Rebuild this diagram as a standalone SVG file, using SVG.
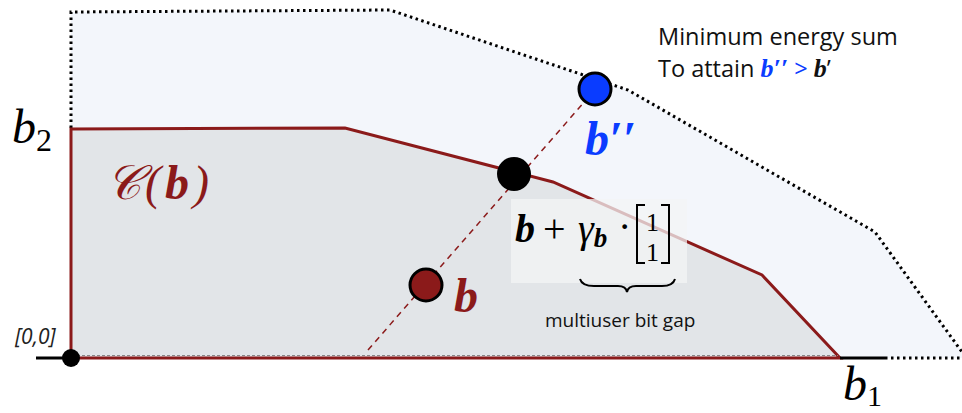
<svg xmlns="http://www.w3.org/2000/svg" width="962" height="413" viewBox="0 0 962 413">
<style>
.dot{fill:none;stroke:#000;stroke-width:3;stroke-dasharray:2.5 3.5}
.red{stroke:#8b1a1a;stroke-width:3;fill:none}
.mi{font-family:"Liberation Serif",serif;font-style:italic}
.mb{font-family:"Liberation Serif",serif;font-style:italic;font-weight:bold}
.mr{font-family:"Liberation Serif",serif}
.sans{font-family:"Open Sans","Noto Sans",sans-serif}
</style>
<g id="region-outer">
<path d="M71,12 L390,10 L628,90 L875,232 L962,352 L962,358 L71,358 Z" fill="#f3f6fb"/>
<path class="dot" d="M71,128 L71,12 L390,10 L628,90 L875,232 L962,352"/>
<path class="dot" d="M885,358 L962,358"/>
</g>
<g id="region-C">
<path d="M71,129 L345,128 L553,182 L762,275 L840,358 L71,358 Z" fill="#e2e5e8"/>
<path class="red" d="M71,358 L71,129 L345,128 L553,182 L762,275 L840,358 L71,358"/>
<line x1="72" y1="355.5" x2="838" y2="355.5" stroke="#888" stroke-width="1" stroke-dasharray="3 2"/>
<text class="mi" x="106" y="199" font-size="48" letter-spacing="4" fill="#8b1a1a">𝒞(<tspan class="mb">b</tspan>)</text>
</g>
<g id="axes">
<line x1="36" y1="358" x2="71" y2="358" stroke="#000" stroke-width="3"/>
<line x1="840" y1="358" x2="885" y2="358" stroke="#000" stroke-width="3"/>
<circle cx="71" cy="358" r="9" fill="#000"/>
<text class="mi" x="12" y="143" font-size="48">b<tspan font-style="normal" font-size="32" dy="8">2</tspan></text>
<text class="mi" x="843" y="400" font-size="48">b<tspan font-style="normal" font-size="30" dy="6">1</tspan></text>
<text class="sans" x="15" y="344" font-size="21" font-style="italic" fill="#222">[0,0]</text>
</g>
<g id="connectors">
<line x1="368" y1="350" x2="586" y2="100" stroke="#8b1a1a" stroke-width="1.5" stroke-dasharray="6 5"/>
</g>
<g id="formula">
<rect x="511" y="199" width="176" height="84" fill="#f3f4f6" fill-opacity="0.75"/>
<text class="mb" x="515" y="242" font-size="40">b</text>
<text class="mr" x="543" y="242" font-size="40">+</text>
<text class="mi" x="578" y="242" font-size="40">γ<tspan class="mb" font-size="27" dy="5">b</tspan></text>
<text class="mr" x="618" y="240" font-size="40">·</text>
<path d="M645,205 L637,205 L637,263 L645,263 M661,205 L669,205 L669,263 L661,263" fill="none" stroke="#000" stroke-width="2"/>
<text class="mr" x="646" y="231" font-size="26">1</text>
<text class="mr" x="646" y="261" font-size="26">1</text>
<path d="M580,279 Q582,286 594,286 L618,286 Q626,286 627,292 Q628,286 636,286 L662,286 Q673,286 675,279" fill="none" stroke="#000" stroke-width="2"/>
<text class="sans" x="545" y="327" font-size="19" fill="#111">multiuser bit gap</text>
</g>
<g id="point-b">
<circle cx="426" cy="285" r="16" fill="#8b1a1a" stroke="#000" stroke-width="3"/>
<text class="mb" x="454" y="312" font-size="48" fill="#8b1a1a">b</text>
</g>
<g id="point-mid">
<circle cx="514" cy="174" r="17" fill="#000"/>
</g>
<g id="point-b2">
<circle cx="595" cy="89" r="16" fill="#0a3cff" stroke="#000" stroke-width="3"/>
<text class="mb" x="585" y="155" font-size="48" fill="#0a3cff">b′′</text>
</g>
<g id="note">
<text class="sans" x="658" y="45" font-size="23.5" fill="#111">Minimum energy sum</text>
<text class="sans" x="658" y="77" font-size="23.5" fill="#111">To attain <tspan class="mb" font-size="26" fill="#0a3cff">b′′</tspan><tspan fill="#0a3cff"> &gt; </tspan><tspan class="mb" font-size="26">b</tspan>’</text>
</g>
</svg>
